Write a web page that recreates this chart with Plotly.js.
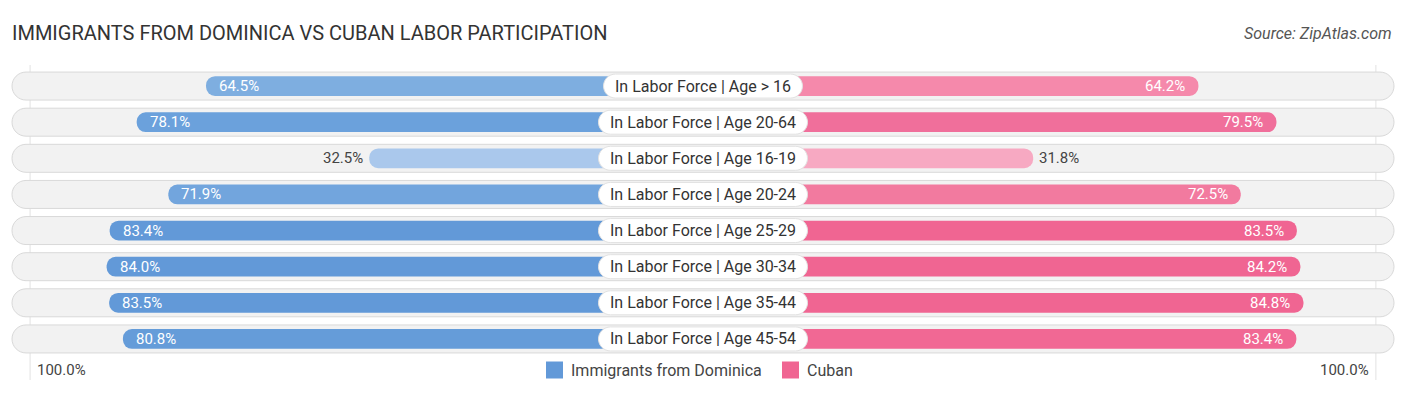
<!DOCTYPE html>
<html>
<head>
<meta charset="utf-8">
<script src="https://cdn.plot.ly/plotly-3.0.1.min.js"></script>
<style>
  html, body { margin: 0; padding: 0; background: #ffffff; }
  #chart { width: 1406px; height: 395px; }
</style>
</head>
<body>
<div id="chart"></div>
<script>
// ---- data ----
const categories = [
  "In Labor Force | Age > 16",
  "In Labor Force | Age 20-64",
  "In Labor Force | Age 16-19",
  "In Labor Force | Age 20-24",
  "In Labor Force | Age 25-29",
  "In Labor Force | Age 30-34",
  "In Labor Force | Age 35-44",
  "In Labor Force | Age 45-54"
];
const dominica = [64.5, 78.1, 32.5, 71.9, 83.4, 84.0, 83.5, 80.8];
const cuban = [64.2, 79.5, 31.8, 72.5, 83.5, 84.2, 84.8, 83.4];
const seriesNames = ["Immigrants from Dominica", "Cuban"];
const axisLabel = "100.0%";

// ---- styling ----
const W = 1406, H = 395;
const PX = 5.1;               // pixels per percent
const OFF = 168 / PX;         // bar part hidden under label (units)
const R = (W / 2) / PX;       // half range
const blueColors = ["#7eaee0", "#6ba1dc", "#aac8ec", "#72a5dd", "#6299d8", "#6299d8", "#6299d8", "#659cd9"];
const pinkColors = ["#f589ab", "#f06f9b", "#f7a9c2", "#f27a9f", "#f06592", "#f06592", "#f06592", "#f16894"];
const FONT = "Roboto, 'Open Sans', sans-serif";

const n = categories.length;
const ys = categories.map((_, i) => i);

// measure label widths (pixels)
const cv = document.createElement("canvas").getContext("2d");
cv.font = "16px Roboto";
const labelHalfPx = categories.map(c => cv.measureText(c).width / 2 + 11.5);

// rounded rectangle path in pixels centred on anchor (no arcs allowed -> cubic curves)
function roundRect(hw, hh, r) {
  const k = 0.5523 * r;
  const x0 = -hw, x1 = hw, y0 = -hh, y1 = hh;
  return `M${x0 + r},${y0} L${x1 - r},${y0} C${x1 - r + k},${y0} ${x1},${y0 + r - k} ${x1},${y0 + r} ` +
    `L${x1},${y1 - r} C${x1},${y1 - r + k} ${x1 - r + k},${y1} ${x1 - r},${y1} ` +
    `L${x0 + r},${y1} C${x0 + r - k},${y1} ${x0},${y1 - r + k} ${x0},${y1 - r} ` +
    `L${x0},${y0 + r} C${x0},${y0 + r - k} ${x0 + r - k},${y0} ${x0 + r},${y0} Z`;
}

const traces = [];
// value bars
traces.push({
  type: "bar", orientation: "h", y: ys, x: dominica.map(v => -(v + OFF)), base: 0,
  width: 0.55, marker: { color: blueColors, cornerradius: 10 }, hoverinfo: "skip", showlegend: false
});
traces.push({
  type: "bar", orientation: "h", y: ys, x: cuban.map(v => v + OFF), base: 0,
  width: 0.55, marker: { color: pinkColors, cornerradius: 10 }, hoverinfo: "skip", showlegend: false
});

const shapes = [];
ys.forEach(i => {
  // background pill
  shapes.push({ type: "path", xref: "x", yref: "y", xsizemode: "pixel", ysizemode: "pixel",
    xanchor: 0, yanchor: i, path: roundRect(691, 14, 14), layer: "below",
    fillcolor: "#f2f2f2", line: { color: "#d9d9d9", width: 1 } });
  // label box
  shapes.push({ type: "path", xref: "x", yref: "y", xsizemode: "pixel", ysizemode: "pixel",
    xanchor: 0, yanchor: i, path: roundRect(labelHalfPx[i], 12, 12), layer: "above",
    fillcolor: "#ffffff", line: { color: "#e2e2e2", width: 1 } });
});

const annotations = [];
categories.forEach((c, i) => {
  annotations.push({ x: 0, y: i, xref: "x", yref: "y", text: c, showarrow: false,
    font: { family: FONT, size: 16, color: "#333333" }, xanchor: "center", yanchor: "middle" });
  const dv = dominica[i], cvv = cuban[i];
  const dIn = dv >= 40, cIn = cvv >= 40;
  annotations.push({ x: -(dv + OFF), y: i, xref: "x", yref: "y", text: dv.toFixed(1) + "%", showarrow: false,
    xanchor: dIn ? "left" : "right", xshift: dIn ? 11 : -4, yanchor: "middle",
    font: { family: FONT, size: 15, color: dIn ? "#ffffff" : "#444444" } });
  annotations.push({ x: cvv + OFF, y: i, xref: "x", yref: "y", text: cvv.toFixed(1) + "%", showarrow: false,
    xanchor: cIn ? "right" : "left", xshift: cIn ? -11 : 4, yanchor: "middle",
    font: { family: FONT, size: 15, color: cIn ? "#ffffff" : "#444444" } });
});

const plotTop = 68, plotBottom = 357, plotH = plotBottom - plotTop;
const py = px => (plotBottom - px) / plotH;

annotations.push({ xref: "paper", yref: "paper", x: 1394 / W, y: py(34), xanchor: "right", yanchor: "middle",
  text: "Source: ZipAtlas.com", showarrow: false, font: { family: FONT, size: 16, color: "#555555", style: "italic" } });
annotations.push({ xref: "paper", yref: "paper", x: 35 / W, y: py(370), xanchor: "left", yanchor: "middle",
  text: axisLabel, showarrow: false, font: { family: FONT, size: 15, color: "#444444" } });
annotations.push({ xref: "paper", yref: "paper", x: 1371 / W, y: py(370), xanchor: "right", yanchor: "middle",
  text: axisLabel, showarrow: false, font: { family: FONT, size: 15, color: "#444444" } });
annotations.push({ xref: "paper", yref: "paper", x: 569 / W, y: py(370), xanchor: "left", yanchor: "middle",
  text: seriesNames[0], showarrow: false, font: { family: FONT, size: 16, color: "#444444" } });
annotations.push({ xref: "paper", yref: "paper", x: 805 / W, y: py(370), xanchor: "left", yanchor: "middle",
  text: seriesNames[1], showarrow: false, font: { family: FONT, size: 16, color: "#444444" } });

shapes.push(
  { type: "rect", xref: "paper", yref: "paper", xsizemode: "pixel", ysizemode: "pixel",
    xanchor: 0, yanchor: py(370), x0: 546, x1: 563, y0: -8.5, y1: 8.5,
    fillcolor: "#6299d8", line: { width: 0 } },
  { type: "rect", xref: "paper", yref: "paper", xsizemode: "pixel", ysizemode: "pixel",
    xanchor: 0, yanchor: py(370), x0: 782, x1: 799, y0: -8.5, y1: 8.5,
    fillcolor: "#f06592", line: { width: 0 } }
);
[-1, 1].forEach(s => shapes.push({ type: "line", xref: "x", yref: "paper", x0: s * (OFF + 99), x1: s * (OFF + 99),
  y0: py(65), y1: py(380), line: { color: "#e2e2e2", width: 1 }, layer: "below" }));

const layout = {
  width: W, height: H,
  margin: { l: 0, r: 0, t: plotTop, b: H - plotBottom, pad: 0 },
  paper_bgcolor: "#ffffff", plot_bgcolor: "#ffffff",
  barmode: "overlay",
  showlegend: false,
  title: { text: "IMMIGRANTS FROM DOMINICA VS CUBAN LABOR PARTICIPATION",
    xref: "container", yref: "container", x: 12 / W, y: 1 - 33 / H, xanchor: "left", yanchor: "middle",
    font: { family: FONT, size: 20, color: "#333333" } },
  xaxis: { range: [-R, R], visible: false, fixedrange: true },
  yaxis: { range: [n - 0.5, -0.5], visible: false, fixedrange: true },
  annotations: annotations,
  shapes: shapes
};

Plotly.newPlot("chart", traces, layout, { staticPlot: true, displayModeBar: false });
</script>
</body>
</html>
